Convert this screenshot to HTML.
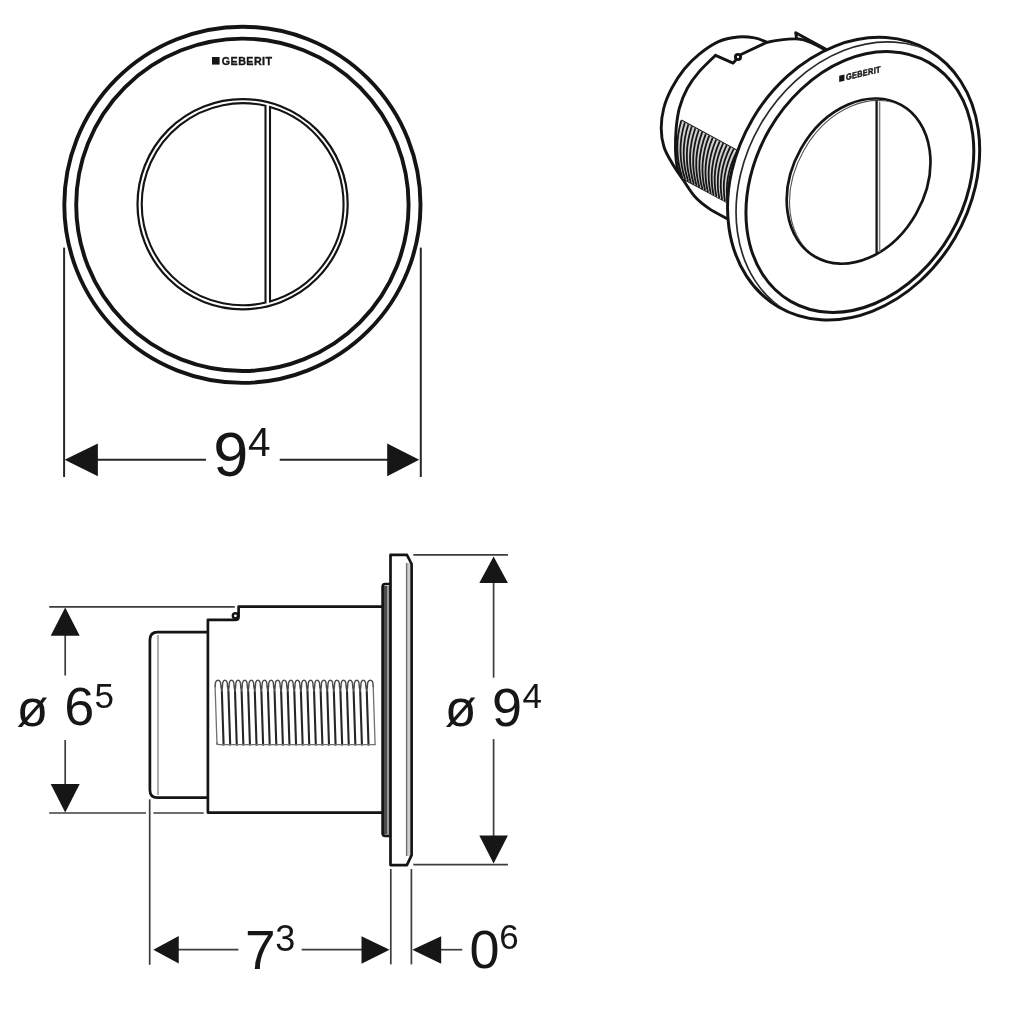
<!DOCTYPE html>
<html><head><meta charset="utf-8"><style>
html,body{margin:0;padding:0;background:#fff;width:1024px;height:1024px;overflow:hidden}
svg{position:absolute;left:0;top:0;will-change:transform}
#wrap{position:absolute;left:0;top:0;width:1024px;height:1024px;}
text{font-family:"Liberation Sans",sans-serif;fill:#161616}
</style></head><body><div id="wrap">
<svg width="1024" height="1024" viewBox="0 0 1024 1024">
<rect width="1024" height="1024" fill="#fff"/>
<!-- FRONT VIEW -->
<g fill="none" stroke="#141414">
<circle cx="242.4" cy="204.8" r="178.1" stroke-width="3.9"/>
<circle cx="242.4" cy="204.8" r="166.2" stroke-width="3.9"/>
<circle cx="242.6" cy="204.2" r="105.1" stroke-width="2.2"/>
<path d="M265.5,105.8 A101,101 0 1 0 265.5,302.6 Z" stroke-width="2.1"/>
<path d="M270,107.0 A101,101 0 0 1 270,301.4 Z" stroke-width="2.1"/>
</g>
<rect x="212" y="57" width="7.6" height="7.6" fill="#161616"/>
<text x="221.8" y="64.5" font-size="10.7" font-weight="bold" textLength="50.2" lengthAdjust="spacing" stroke="#161616" stroke-width="0.35">GEBERIT</text>
<!-- top dim -->
<g stroke="#262626" stroke-width="2" fill="none">
<line x1="64.1" y1="247.6" x2="64.1" y2="477"/>
<line x1="420.8" y1="247.6" x2="420.8" y2="477"/>
<line x1="97" y1="459.8" x2="206" y2="459.8"/>
<line x1="279.7" y1="459.8" x2="388" y2="459.8"/>
</g>
<g fill="#161616">
<path d="M64.6,459.8 L97.9,443.4 L97.9,476.2 Z"/>
<path d="M419.2,459.8 L387.2,443.4 L387.2,476.2 Z"/>
</g>
<text x="213.25" y="476.1" font-size="63">9</text>
<text x="248" y="455.9" font-size="40.5">4</text>

<!-- 3D VIEW -->

<g fill="none" stroke="#141414" stroke-width="2.9" stroke-linejoin="round" stroke-linecap="round">
<path d="M766.4,42.0 C764.4,41.3 759.3,38.7 754.6,37.9 C749.9,37.1 744.0,36.4 738.0,37.0 C732.0,37.6 725.0,38.7 718.5,41.6 C712.0,44.5 704.7,49.7 699.0,54.3 C693.3,58.9 688.9,63.3 684.3,69.0 C679.7,74.7 675.0,82.0 671.6,88.5 C668.2,95.0 665.5,101.4 663.8,108.0 C662.1,114.6 661.2,121.5 661.2,128.0 C661.2,134.5 662.2,141.2 664.0,147.0 C665.8,152.8 668.8,157.4 672.0,163.0 C675.2,168.6 679.5,174.6 683.4,180.3 C687.3,186.0 690.9,192.3 695.2,197.0 C699.5,201.7 703.9,205.0 709.2,208.6 C714.5,212.2 723.9,216.8 726.8,218.5"/>
<path d="M715.5,55.3 C712.8,58.1 703.7,66.4 699.0,71.9 C694.3,77.4 690.5,82.5 687.2,88.5 C683.9,94.5 681.2,101.4 679.4,108.0 C677.6,114.6 676.9,121.0 676.2,128.0 C675.6,135.0 675.3,143.3 675.5,150.0 C675.7,156.7 676.4,163.3 677.5,168.0 C678.6,172.7 681.5,176.3 682.3,178.0 M715.5,55.3 L733.1,63.1 L735.6,60.2"/>
<path d="M741,54.5 L766.4,42.5 C775,40.5 790,38.6 798.6,39 C804,39.3 810,41 826,50.3"/>
<circle cx="738" cy="57" r="2.6" stroke-width="2.9"/>
<path d="M796.6,38.6 L795.7,32.7 L826,49.3"/>
</g>

<g fill="none" stroke="#141414" stroke-width="2.2"><path d="M681.1,120.5 L737.3,151 M682.3,178 L728,202.6"/></g>
<path d="M681.3,120.6 L737.2,150.8 L727.8,203 L682.4,178 Q672.85,149.3 681.3,120.6Z" fill="#d0d0d0"/>
<path d="M681.3,120.6 Q672.8,149.3 682.4,178.0 M684.8,122.5 Q676.0,151.0 685.2,179.6 M688.3,124.4 Q679.2,152.8 688.1,181.1 M691.8,126.3 Q682.3,154.5 690.9,182.7 M695.3,128.2 Q685.5,156.2 693.8,184.2 M698.8,130.0 Q688.7,157.9 696.6,185.8 M702.3,131.9 Q691.8,159.7 699.4,187.4 M705.8,133.8 Q695.0,161.4 702.3,188.9 M709.2,135.7 Q698.2,163.1 705.1,190.5 M712.7,137.6 Q701.3,164.8 707.9,192.1 M716.2,139.5 Q704.5,166.6 710.8,193.6 M719.7,141.4 Q707.7,168.3 713.6,195.2 M723.2,143.2 Q710.8,170.0 716.4,196.8 M726.7,145.1 Q714.0,171.7 719.3,198.3 M730.2,147.0 Q717.2,173.4 722.1,199.9 M733.7,148.9 Q720.3,175.2 725.0,201.4 M737.2,150.8 Q723.5,176.9 727.8,203.0 " fill="none" stroke="#161616" stroke-width="1.8"/>
<!-- plate -->
<ellipse cx="853.61" cy="178.67" rx="117.34" ry="148.63" transform="rotate(30.34 853.61 178.67)" fill="#fff" stroke="#141414" stroke-width="3"/>
<clipPath id="e1clip"><ellipse cx="853.61" cy="178.67" rx="116" ry="147.3" transform="rotate(30.34 853.61 178.67)"/></clipPath>
<g clip-path="url(#e1clip)"><ellipse cx="862.11" cy="183.17" rx="117.34" ry="148.63" transform="rotate(30.34 862.11 183.17)" fill="none" stroke="#2a2a2a" stroke-width="1.7"/></g>
<ellipse cx="859.87" cy="181.99" rx="104.6" ry="137.99" transform="rotate(30.09 859.87 181.99)" fill="none" stroke="#141414" stroke-width="3"/>
<ellipse cx="858.59" cy="181.11" rx="66.15" ry="87.24" transform="rotate(29.49 858.59 181.11)" fill="none" stroke="#141414" stroke-width="2.7"/>
<clipPath id="btclip"><ellipse cx="858.59" cy="181.11" rx="65" ry="86.1" transform="rotate(29.49 858.59 181.11)"/></clipPath>
<g clip-path="url(#btclip)"><ellipse cx="861.4" cy="183" rx="66.15" ry="87.24" transform="rotate(29.49 861.4 183)" fill="none" stroke="#555" stroke-width="1.1"/></g>
<line x1="876.6" y1="100.5" x2="876.6" y2="253" stroke="#141414" stroke-width="2.3"/>
<line x1="879.6" y1="101.5" x2="879.6" y2="252" stroke="#808080" stroke-width="1.5"/>
<g transform="matrix(0.71,-0.164,0,0.83,0,0) ">
</g>
<g transform="translate(839.2,81.9) matrix(0.69,-0.16,0,0.82,0,0) translate(-212,-64.6)">
<rect x="212" y="57" width="7.6" height="7.6" fill="#161616"/>
<text x="221.8" y="64.5" font-size="10.7" font-weight="bold" textLength="50.2" lengthAdjust="spacing" stroke="#161616" stroke-width="0.6">GEBERIT</text>
</g>

<!-- SIDE VIEW -->
<rect x="383" y="586" width="7" height="248" fill="#4a4a4a"/>
<rect x="387" y="586" width="2.2" height="248" fill="#9a9a9a"/>
<rect x="407" y="563" width="3" height="293" fill="#cfcfcf"/>
<line x1="406.6" y1="563" x2="406.6" y2="856" stroke="#707070" stroke-width="1.4"/>
<g fill="none" stroke="#141414" stroke-linejoin="round">
<path d="M390.5,554.9 H406.9 L411.6,564 V855.2 L406.9,865.1 H390.5 Z" stroke-width="2.7"/>
<path d="M390.5,584 H385 Q382.6,584 382.6,587 V833 Q382.6,835.8 385,835.8 H390.5" stroke-width="2.7"/>
<path d="M382.6,606.7 H238.6 V616.4 M238.6,616.4 Q238.6,619.9 235,619.9 H207.9 V812.6 H382.6" stroke-width="2.7"/>
<circle cx="235.4" cy="615.8" r="2.6" stroke-width="2.4"/>
<path d="M207.9,632.1 H157.6 Q149.9,632.1 149.9,640 V790 Q149.9,797.7 157.6,797.7 H207.9" stroke-width="2.7"/>
</g>
<g fill="none" stroke="#8a8a8a" stroke-width="1.4">
<line x1="158" y1="635" x2="158" y2="795"/>
</g>
<g fill="none" stroke-linecap="round">
<path d="M221.85,691.5 L223.59,744.6 M228.44,691.5 L230.18,744.6 M235.02,691.5 L236.76,744.6 M241.61,691.5 L243.35,744.6 M248.20,691.5 L249.94,744.6 M254.79,691.5 L256.52,744.6 M261.37,691.5 L263.11,744.6 M267.96,691.5 L269.70,744.6 M274.55,691.5 L276.29,744.6 M281.14,691.5 L282.88,744.6 M287.72,691.5 L289.46,744.6 M294.31,691.5 L296.05,744.6 M300.90,691.5 L302.64,744.6 M307.49,691.5 L309.23,744.6 M314.07,691.5 L315.81,744.6 M320.66,691.5 L322.40,744.6 M327.25,691.5 L328.99,744.6 M333.84,691.5 L335.58,744.6 M340.42,691.5 L342.16,744.6 M347.01,691.5 L348.75,744.6 M353.60,691.5 L355.34,744.6 M360.19,691.5 L361.93,744.6 M366.77,691.5 L368.51,744.6 " stroke="#262626" stroke-width="2.1"/>
<path d="M215.10,686.5 L217.00,744.6 M373.20,686.5 L375.10,744.6 " stroke="#707070" stroke-width="1.3"/>
<path d="M215.10,686.5 L215.10,686.5 C215.10,678.2 220.94,678.2 220.94,686.5 L221.85,691.5 M221.85,691.5 L222.44,686.5 C222.44,678.2 227.52,678.2 227.52,686.5 L228.44,691.5 M228.44,691.5 L229.02,686.5 C229.02,678.2 234.11,678.2 234.11,686.5 L235.02,691.5 M235.02,691.5 L235.61,686.5 C235.61,678.2 240.70,678.2 240.70,686.5 L241.61,691.5 M241.61,691.5 L242.20,686.5 C242.20,678.2 247.29,678.2 247.29,686.5 L248.20,691.5 M248.20,691.5 L248.79,686.5 C248.79,678.2 253.87,678.2 253.87,686.5 L254.79,691.5 M254.79,691.5 L255.37,686.5 C255.37,678.2 260.46,678.2 260.46,686.5 L261.37,691.5 M261.37,691.5 L261.96,686.5 C261.96,678.2 267.05,678.2 267.05,686.5 L267.96,691.5 M267.96,691.5 L268.55,686.5 C268.55,678.2 273.64,678.2 273.64,686.5 L274.55,691.5 M274.55,691.5 L275.14,686.5 C275.14,678.2 280.22,678.2 280.22,686.5 L281.14,691.5 M281.14,691.5 L281.72,686.5 C281.72,678.2 286.81,678.2 286.81,686.5 L287.72,691.5 M287.72,691.5 L288.31,686.5 C288.31,678.2 293.40,678.2 293.40,686.5 L294.31,691.5 M294.31,691.5 L294.90,686.5 C294.90,678.2 299.99,678.2 299.99,686.5 L300.90,691.5 M300.90,691.5 L301.49,686.5 C301.49,678.2 306.57,678.2 306.57,686.5 L307.49,691.5 M307.49,691.5 L308.07,686.5 C308.07,678.2 313.16,678.2 313.16,686.5 L314.07,691.5 M314.07,691.5 L314.66,686.5 C314.66,678.2 319.75,678.2 319.75,686.5 L320.66,691.5 M320.66,691.5 L321.25,686.5 C321.25,678.2 326.34,678.2 326.34,686.5 L327.25,691.5 M327.25,691.5 L327.84,686.5 C327.84,678.2 332.92,678.2 332.92,686.5 L333.84,691.5 M333.84,691.5 L334.42,686.5 C334.42,678.2 339.51,678.2 339.51,686.5 L340.42,691.5 M340.42,691.5 L341.01,686.5 C341.01,678.2 346.10,678.2 346.10,686.5 L347.01,691.5 M347.01,691.5 L347.60,686.5 C347.60,678.2 352.69,678.2 352.69,686.5 L353.60,691.5 M353.60,691.5 L354.19,686.5 C354.19,678.2 359.27,678.2 359.27,686.5 L360.19,691.5 M360.19,691.5 L360.77,686.5 C360.77,678.2 365.86,678.2 365.86,686.5 L366.77,691.5 M366.77,691.5 L367.36,686.5 C367.36,678.2 373.20,678.2 373.20,686.5 L373.20,686.5 " stroke="#4a4a4a" stroke-width="1.5"/>
<path d="M217.00,742.6 Q217.00,744.6 219.00,744.6 L375.10,744.6" stroke="#707070" stroke-width="1.3"/>
</g>
<!-- side dims -->
<g stroke="#3c3c3c" stroke-width="1.7" fill="none">
<line x1="49.2" y1="606.9" x2="234.8" y2="606.9"/>
<line x1="49.2" y1="813" x2="146" y2="813"/>
<line x1="153.4" y1="813" x2="203.7" y2="813"/>
<line x1="65.2" y1="630" x2="65.2" y2="675.5"/>
<line x1="65.2" y1="740" x2="65.2" y2="790"/>
<line x1="413.3" y1="554.9" x2="507.9" y2="554.9"/>
<line x1="413.3" y1="864.6" x2="507.9" y2="864.6"/>
<line x1="493.6" y1="580" x2="493.6" y2="677.7"/>
<line x1="493.6" y1="739.1" x2="493.6" y2="840"/>
<line x1="149.7" y1="799.3" x2="149.7" y2="964.8"/>
<line x1="390.8" y1="869" x2="390.8" y2="964.4"/>
<line x1="411.4" y1="869" x2="411.4" y2="964.4"/>
<line x1="175" y1="949.7" x2="238.4" y2="949.7"/>
<line x1="301.7" y1="949.7" x2="365" y2="949.7"/>
<line x1="438" y1="949.7" x2="462.25" y2="949.7"/>
</g>
<g fill="#161616">
<path d="M65.2,607.4 L79.7,635.7 L50.7,635.7 Z"/>
<path d="M65.2,812.4 L79.7,784 L50.7,784 Z"/>
<path d="M493.6,556.6 L507.9,583.1 L479.3,583.1 Z"/>
<path d="M493.6,863.6 L507.9,835.4 L479.3,835.4 Z"/>
<path d="M153.3,949.7 L178.75,935.9 L178.75,963.5 Z"/>
<path d="M389.6,949.7 L361.5,936.3 L361.5,963.7 Z"/>
<path d="M412.3,949.7 L441.2,936.3 L441.2,963.7 Z"/>
</g>
<text x="16.4" y="725.5" font-size="52">ø</text>
<text x="64.2" y="725.4" font-size="54">6</text>
<text x="94.5" y="707.8" font-size="35">5</text>
<text x="444.8" y="725.6" font-size="52">ø</text>
<text x="492.1" y="726" font-size="54">9</text>
<text x="522.5" y="708.2" font-size="35">4</text>
<text x="245" y="969.3" font-size="55">7</text>
<text x="275.3" y="951.2" font-size="36">3</text>
<text x="469.4" y="967.5" font-size="54">0</text>
<text x="499.2" y="948.9" font-size="35">6</text>
</svg></div>
</body></html>
